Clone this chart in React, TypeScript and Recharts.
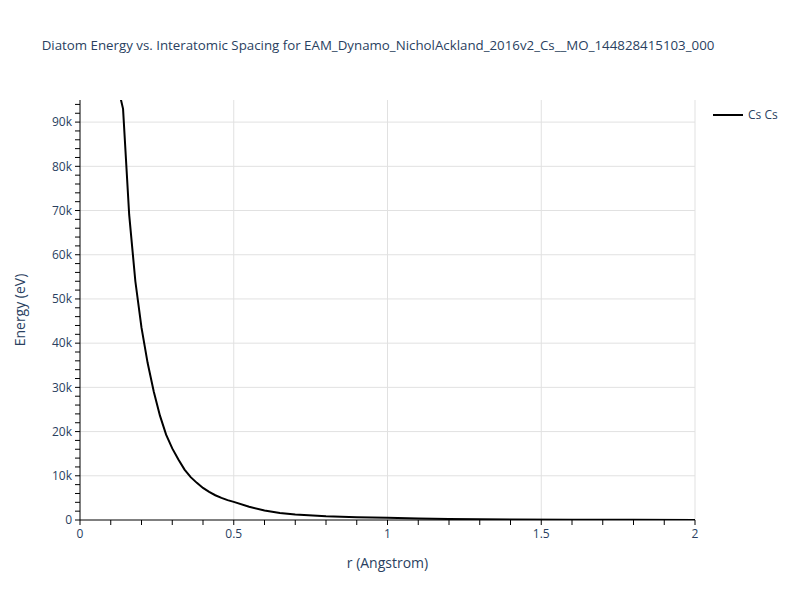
import { Line, LineChart, ReferenceLine, XAxis, YAxis } from 'recharts';

const rValues = [
  0.11, 0.14, 0.16, 0.18, 0.2, 0.22, 0.24, 0.26, 0.28, 0.3, 0.32, 0.34, 0.36, 0.38, 0.4, 0.42, 0.44,
  0.46, 0.48, 0.5, 0.55, 0.6, 0.65, 0.7, 0.8, 0.9, 1.0, 1.1, 1.2, 1.4, 1.6, 1.8, 2.0,
];
const energyValues = [
  102000, 93000, 69000, 54000, 43500, 35500, 29000, 23600, 19300, 16200, 13700, 11400, 9700, 8400,
  7250, 6350, 5600, 5000, 4500, 4100, 3000, 2150, 1600, 1250, 850, 650, 500, 330, 220, 120, 60, 30, 10,
];
const xTicks = [0, 0.1, 0.2, 0.3, 0.4, 0.5, 0.6, 0.7, 0.8, 0.9, 1, 1.1, 1.2, 1.3, 1.4, 1.5, 1.6, 1.7, 1.8, 1.9, 2];
const xMajor = [0.5, 1, 1.5, 2];
const yTicks = [
  0, 2000, 4000, 6000, 8000, 10000, 12000, 14000, 16000, 18000, 20000, 22000, 24000, 26000, 28000,
  30000, 32000, 34000, 36000, 38000, 40000, 42000, 44000, 46000, 48000, 50000, 52000, 54000, 56000,
  58000, 60000, 62000, 64000, 66000, 68000, 70000, 72000, 74000, 76000, 78000, 80000, 82000, 84000,
  86000, 88000, 90000, 92000, 94000,
];
const yMajor = [10000, 20000, 30000, 40000, 50000, 60000, 70000, 80000, 90000];
const seriesName = 'Cs Cs';

const data = rValues.map((r, i) => ({ r, energy: energyValues[i] }));

const FONT = '"Open Sans", verdana, arial, sans-serif';
const TEXT = '#2a3f5f';
const GRID = '#e1e1e1';

const XTick = ({ x, y, payload }: any) => {
  const v = payload.value;
  if (Math.abs(v * 2 - Math.round(v * 2)) > 1e-6) return <g />;
  return (
    <text x={x} y={y} dy="0.71em" textAnchor="middle" fill={TEXT} fontSize={12} fontFamily={FONT}>
      {String(Math.round(v * 10) / 10)}
    </text>
  );
};

const YTick = ({ x, y, payload }: any) => {
  const v = payload.value;
  if (v % 10000 !== 0) return <g />;
  return (
    <text x={x} y={y} dy="0.35em" textAnchor="end" fill={TEXT} fontSize={12} fontFamily={FONT}>
      {v === 0 ? '0' : `${v / 1000}k`}
    </text>
  );
};

export default function App() {
  return (
    <div style={{ position: 'absolute', left: 0, top: 0, width: 800, height: 600, background: '#fff' }}>
      <div
        style={{
          position: 'absolute',
          top: 36,
          left: 0,
          width: 756,
          textAlign: 'center',
          fontFamily: FONT,
          fontSize: 13.3,
          color: TEXT,
          whiteSpace: 'nowrap',
        }}
      >
        Diatom Energy vs. Interatomic Spacing for EAM_Dynamo_NicholAckland_2016v2_Cs__MO_144828415103_000
      </div>
      <div
        style={{
          position: 'absolute',
          top: 106,
          left: 713,
          display: 'flex',
          alignItems: 'center',
          fontFamily: FONT,
          fontSize: 12,
          color: TEXT,
        }}
      >
        <svg width={30} height={10}>
          <line x1={0} y1={5} x2={30} y2={5} stroke="#000" strokeWidth={2} />
        </svg>
        <span style={{ marginLeft: 5 }}>{seriesName}</span>
      </div>
      <LineChart width={800} height={600} data={data} margin={{ top: 100, right: 105, bottom: 0, left: 0 }}>
        {xMajor.map((v) => (
          <ReferenceLine key={`vx-${v}`} x={v} stroke={GRID} strokeWidth={1} />
        ))}
        {yMajor.map((v) => (
          <ReferenceLine key={`hy-${v}`} y={v} stroke={GRID} strokeWidth={1} />
        ))}
        <XAxis
          dataKey="r"
          type="number"
          domain={[0, 2]}
          ticks={xTicks}
          interval={0}
          height={80}
          tick={<XTick />}
          tickSize={5}
          tickMargin={4}
          stroke="#000"
          allowDataOverflow
          label={{ value: 'r (Angstrom)', position: 'insideBottom', offset: 32, fill: TEXT, fontSize: 14, fontFamily: FONT }}
        />
        <YAxis
          type="number"
          domain={[0, 95000]}
          ticks={yTicks}
          interval={0}
          width={80}
          tick={<YTick />}
          tickSize={5}
          tickMargin={3}
          stroke="#000"
          allowDataOverflow
          label={{
            value: 'Energy (eV)',
            angle: -90,
            position: 'insideLeft',
            offset: 20,
            fill: TEXT,
            fontSize: 14,
            fontFamily: FONT,
            style: { textAnchor: 'middle' },
          }}
        />
        <Line
          type="linear"
          dataKey="energy"
          name={seriesName}
          stroke="#000"
          strokeWidth={2}
          dot={false}
          isAnimationActive={false}
        />
      </LineChart>
    </div>
  );
}
